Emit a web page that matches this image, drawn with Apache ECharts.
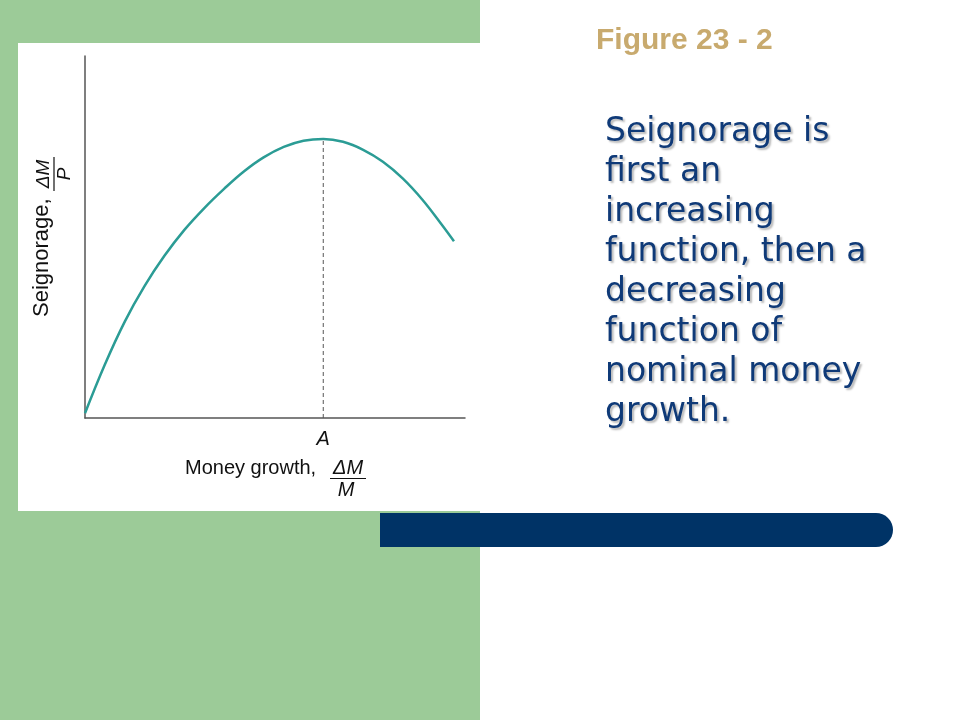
<!DOCTYPE html>
<html>
<head>
<meta charset="utf-8">
<script src="https://cdn.jsdelivr.net/npm/echarts@6/dist/echarts.min.js"></script>
<style>
html, body { margin: 0; padding: 0; background: #fff; }
#main { width: 960px; height: 720px; }
</style>
</head>
<body>
<div id="main"></div>
<script>
// money growth (x) and seignorage (y), arbitrary units
var growth = [0, 5.2, 10.5, 15.7, 20.9, 26.1, 31.4, 36.6, 41.8, 47.0, 52.3, 57.5, 62.7, 67.9, 73.2, 78.4, 83.6, 88.8, 94.1, 97.1];
var seignorage = [1.3, 14.7, 26.7, 36.5, 44.8, 51.9, 58.0, 63.3, 68.1, 72.0, 74.9, 76.6, 77.1, 76.3, 74.1, 70.8, 66.2, 60.3, 53.1, 48.8];
var peakGrowth = 62.7;
var peakLabel = 'A';
var bodyLines = ['Seignorage is', 'first an', 'increasing', 'function, then a', 'decreasing', 'function of', 'nominal money', 'growth.'];

var curve = growth.map(function (g, i) { return [g, seignorage[i]]; });
var peakValue = Math.max.apply(null, seignorage);

var sans = '"Liberation Sans", Arial, sans-serif';

var chart = echarts.init(document.getElementById('main'));
var option = {
	backgroundColor: '#ffffff',
	animation: false,
	grid: {
		left: 85,
		right: 495,
		top: 56,
		bottom: 302
	},
	xAxis: {
		type: 'value',
		min: 0,
		max: 100,
		axisLine: { show: true, lineStyle: { color: '#555', width: 1.5 } },
		axisTick: { show: false },
		splitLine: { show: false },
		axisLabel: {
			customValues: [peakGrowth],
			formatter: function () { return peakLabel; },
			color: '#111',
			fontSize: 20,
			fontStyle: 'italic',
			fontFamily: sans,
			margin: 11
		}
	},
	yAxis: {
		type: 'value',
		min: 0,
		max: 100,
		axisLine: { show: true, lineStyle: { color: '#555', width: 1.5 } },
		axisTick: { show: false },
		splitLine: { show: false },
		axisLabel: { show: false }
	},
	series: [{
		type: 'line',
		data: curve,
		smooth: 0.4,
		symbol: 'none',
		lineStyle: { color: '#2b9c95', width: 2.5 },
		z: 3
	}, {
		type: 'line',
		data: [[peakGrowth, 0], [peakGrowth, peakValue]],
		symbol: 'none',
		lineStyle: { color: '#555', width: 1, type: [4, 3] },
		z: 2
	}],
	graphic: [
		// slide background
		{ type: 'rect', shape: { x: 0, y: 0, width: 480, height: 720 }, style: { fill: '#9ccb98' }, z: -20 },
		{ type: 'rect', shape: { x: 18, y: 43, width: 462, height: 468 }, style: { fill: '#ffffff' }, z: -10 },
		{ type: 'rect', shape: { x: 380, y: 513, width: 513, height: 34, r: [0, 17, 17, 0] }, style: { fill: '#003366' }, z: -5 },
		// x axis title
		{ type: 'text', x: 185, y: 468, style: { text: 'Money growth,', font: '20px ' + sans, fill: '#111', verticalAlign: 'middle' } },
		{ type: 'text', x: 348, y: 468, style: { text: '\u0394M', font: 'italic 20px ' + sans, fill: '#111', align: 'center', verticalAlign: 'middle' } },
		{ type: 'line', shape: { x1: 330, y1: 478.5, x2: 366, y2: 478.5 }, style: { stroke: '#111', lineWidth: 1.2 } },
		{ type: 'text', x: 346, y: 490.5, style: { text: 'M', font: 'italic 20px ' + sans, fill: '#111', align: 'center', verticalAlign: 'middle' } },
		// y axis title, turned to read bottom to top
		{
			type: 'group',
			x: 50,
			y: 317,
			rotation: Math.PI / 2,
			children: [
				{ type: 'text', x: 0, y: -8, style: { text: 'Seignorage,', font: '22px ' + sans, fill: '#111', verticalAlign: 'middle' } },
				{ type: 'text', x: 143, y: -6.5, style: { text: '\u0394M', font: 'italic 19px ' + sans, fill: '#111', align: 'center', verticalAlign: 'middle' } },
				{ type: 'line', shape: { x1: 126, y1: 4, x2: 160, y2: 4 }, style: { stroke: '#111', lineWidth: 1.2 } },
				{ type: 'text', x: 143, y: 14.5, style: { text: 'P', font: 'italic 19px ' + sans, fill: '#111', align: 'center', verticalAlign: 'middle' } }
			]
		},
		// slide texts
		{ type: 'text', x: 596, y: 41, style: { text: 'Figure 23 - 2', font: 'bold 30px ' + sans, fill: '#c8aa6e', verticalAlign: 'middle' } },
		{
			type: 'text',
			x: 605,
			y: 112,
			style: {
				text: bodyLines.join('\n'),
				font: '33px "Comic Sans MS", "DejaVu Sans", sans-serif',
				lineHeight: 40,
				fill: '#0f3a78',
				verticalAlign: 'top',
				textShadowColor: 'rgba(0,0,0,0.28)',
				textShadowOffsetX: 2,
				textShadowOffsetY: 2,
				textShadowBlur: 2
			}
		}
	]
};
chart.setOption(option);
</script>
</body>
</html>
